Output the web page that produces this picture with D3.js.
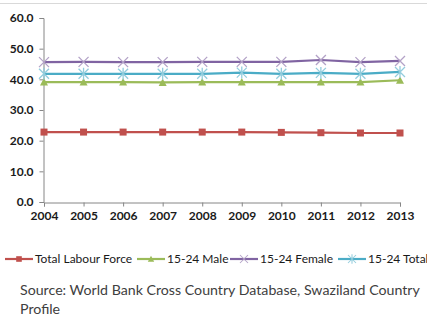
<!DOCTYPE html>
<html>
<head>
<script src="https://d3js.org/d3.v7.min.js"></script>
<style>
  body { margin: 0; background: #fff; }
  text { font-family: Lato, "Open Sans", sans-serif; }
</style>
</head>
<body>
<svg width="427" height="318"></svg>
<script>

const years = [2004, 2005, 2006, 2007, 2008, 2009, 2010, 2011, 2012, 2013];
const totalLabour = [22.8, 22.8, 22.8, 22.8, 22.8, 22.8, 22.7, 22.6, 22.5, 22.5];
const male1524 = [39.1, 39.1, 39.1, 39.0, 39.1, 39.1, 39.1, 39.1, 39.1, 39.7];
const female1524 = [45.6, 45.7, 45.6, 45.6, 45.7, 45.7, 45.7, 46.3, 45.6, 46.0];
const total1524 = [41.8, 41.8, 41.8, 41.8, 41.8, 42.2, 41.8, 42.1, 41.8, 42.4];
const yTicks = [0, 10, 20, 30, 40, 50, 60];

const series = [
  { name: "Total Labour Force", values: totalLabour, color: "#c0504d", mark: "#c0504d", shape: "square" },
  { name: "15-24 Male", values: male1524, color: "#9bbb59", mark: "#9bbb59", shape: "triangle" },
  { name: "15-24 Female", values: female1524, color: "#8064a2", mark: "#b3a2c7", shape: "cross" },
  { name: "15-24 Total", values: total1524, color: "#4bacc6", mark: "#93cddd", shape: "star" }
];

var svg = d3.select("svg");

svg.append("line")
    .attr("x1", 0).attr("x2", 427).attr("y1", 3.5).attr("y2", 3.5)
    .attr("stroke", "#d9d9d9").attr("stroke-width", 1);

var x = d3.scalePoint().domain(years).range([44, 400]);
var y = d3.scaleLinear().domain([0, 60]).range([202, 18]);

var yAxis = svg.append("g")
    .attr("transform", "translate(43.5,0)")
    .call(d3.axisLeft(y).tickValues(yTicks).tickSize(4).tickPadding(6).tickFormat(d3.format(".1f")));

var xAxis = svg.append("g")
    .attr("transform", "translate(0,202.5)")
    .call(d3.axisBottom(x).tickSize(4).tickPadding(5));

svg.selectAll(".domain, .tick line").attr("stroke", "#868686");
svg.selectAll(".tick text")
    .attr("fill", "#1a1a1a")
    .style("font-size", "12px")
    .style("font-weight", "bold");

function marker(sel, shape, color) {
  if (shape === "square") {
    sel.append("rect").attr("x", -3.5).attr("y", -3.5).attr("width", 7).attr("height", 7).attr("fill", color);
  } else if (shape === "triangle") {
    sel.append("path").attr("d", "M0,-4L4,3.5L-4,3.5Z").attr("fill", color);
  } else if (shape === "cross") {
    sel.append("path").attr("d", "M-5,-5L5,5M-5,5L5,-5").attr("stroke", color).attr("stroke-width", 1.3).attr("fill", "none");
  } else {
    sel.append("path").attr("d", "M-5,-5L5,5M-5,5L5,-5M0,-6L0,6").attr("stroke", color).attr("stroke-width", 1.3).attr("fill", "none");
  }
}

var line = d3.line()
    .x(function(d, i) { return x(years[i]); })
    .y(function(d) { return y(d); });

series.forEach(function(s) {
  var g = svg.append("g");
  g.append("path")
      .attr("d", line(s.values))
      .attr("fill", "none")
      .attr("stroke", s.color)
      .attr("stroke-width", 2.2);
  g.selectAll(".pt")
      .data(s.values)
      .enter().append("g")
      .attr("transform", function(d, i) { return "translate(" + x(years[i]) + "," + y(d) + ")"; })
      .each(function() { marker(d3.select(this), s.shape, s.mark); });
});

// legend
var legendX = [5, 137, 230, 338];
var legend = svg.selectAll(".legend")
    .data(series)
    .enter().append("g")
    .attr("transform", function(d, i) { return "translate(" + legendX[i] + ",259)"; });

legend.append("line")
    .attr("x1", 0).attr("x2", 28)
    .attr("stroke", function(d) { return d.color; })
    .attr("stroke-width", 2.2);
legend.append("g")
    .each(function(d) { marker(d3.select(this), d.shape, d.mark); })
    .attr("transform", "translate(14,0) scale(0.8)");
legend.append("text")
    .attr("x", 30).attr("dy", "0.35em")
    .attr("fill", "#1a1a1a")
    .style("font-size", "12px")
    .text(function(d) { return d.name; });

svg.append("text")
    .attr("x", 20).attr("y", 295)
    .attr("fill", "#404040")
    .style("font-size", "14.2px")
    .text("Source: World Bank Cross Country Database, Swaziland Country");
svg.append("text")
    .attr("x", 20).attr("y", 314)
    .attr("fill", "#404040")
    .style("font-size", "14.2px")
    .text("Profile");

</script>
</body>
</html>
